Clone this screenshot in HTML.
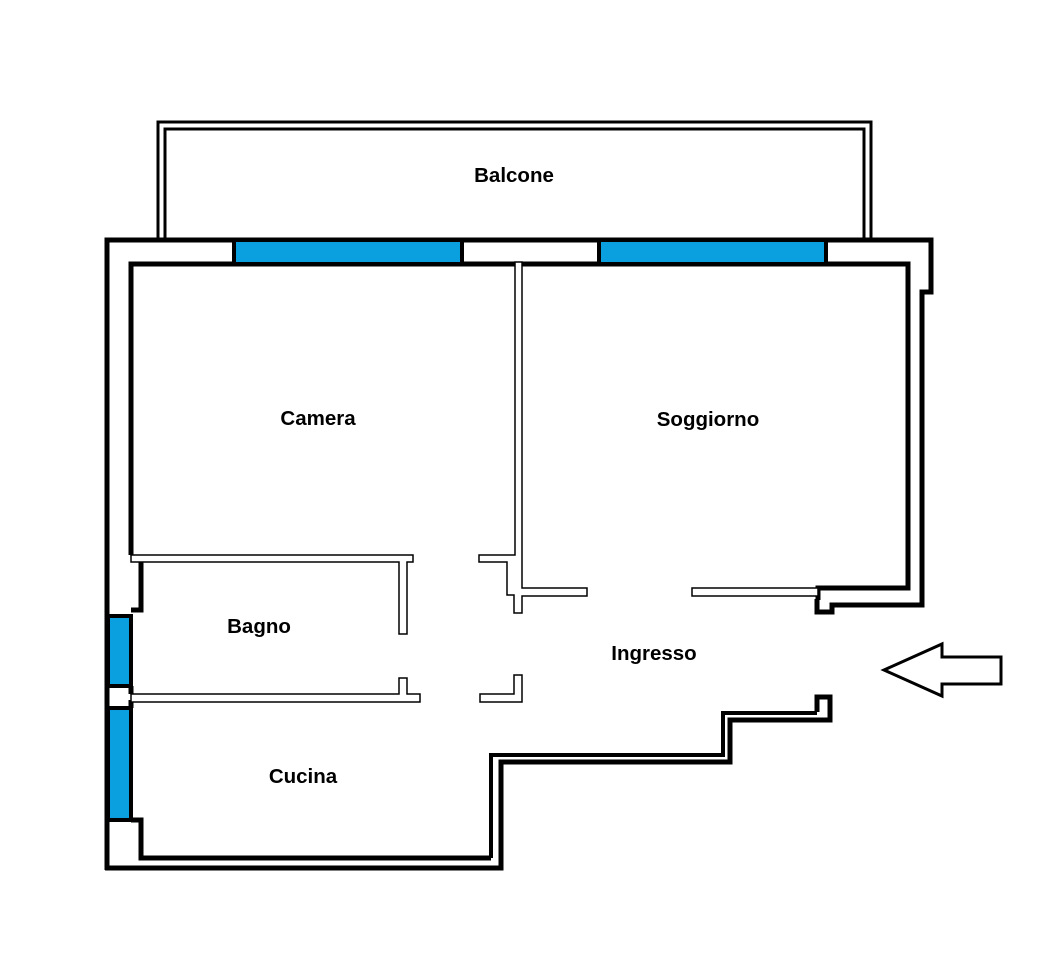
<!DOCTYPE html>
<html><head><meta charset="utf-8"><style>
html,body{margin:0;padding:0;background:#fff;width:1038px;height:971px;overflow:hidden}
text{font-family:"Liberation Sans",Arial,sans-serif;font-weight:bold;font-size:20.5px;fill:#000}
</style></head><body>
<svg width="1038" height="971" xmlns="http://www.w3.org/2000/svg">
<g fill="none" stroke="#000" stroke-linejoin="miter">
<polyline points="158,240 158,122 871,122 871,240" stroke-width="3"/>
<polyline points="165,240 165,129 864,129 864,240" stroke-width="3"/>
<polyline points="107,870 107,240 931,240 931,292 922,292 922,605 832,605 832,612 817,612 817,599" stroke-width="5"/>
<polyline points="105,868 501,868 501,762 730,762 730,720 830,720 830,697 817,697 817,712" stroke-width="5"/>
<polyline points="491,858 491,755 723,755 723,713 817,713" stroke-width="4"/>
<polyline points="131,555 131,264 515,264" stroke-width="5"/>
<polyline points="522,264 908,264 908,588 818,588 818,600" stroke-width="5"/>
<polyline points="131,610 141,610 141,562" stroke-width="5"/>
<polyline points="131,686 131,694" stroke-width="5"/>
<polyline points="131,700 131,708" stroke-width="5"/>
<polyline points="131,820 141,820 141,858 491,858" stroke-width="5"/>
</g>
<g fill="#0aa0e0" stroke="#000" stroke-width="4">
<rect x="234" y="240" width="228" height="24"/>
<rect x="599" y="240" width="227" height="24"/>
<rect x="108" y="616" width="23" height="70"/>
<rect x="108" y="708" width="23" height="112"/>
</g>
<g fill="#fff" stroke="#000" stroke-width="1.5">
<path d="M131,555 H413 V562 H407 V634 H399 V562 H131 Z"/>
<path d="M131,694 H399 V678 H407 V694 H420 V702 H131 Z"/>
<path d="M515,262 H522 V588 H587 V596 H522 V613 H514 V595 H507 V562 H479 V555 H515 Z"/>
<path d="M514,675 H522 V702 H480 V694 H514 Z"/>
<path d="M692,588 H818 V596 H692 Z"/>
</g>
<polygon points="884,670 942,644 942,657 1001,657 1001,684 942,684 942,696" fill="#fff" stroke="#000" stroke-width="3"/>
<text x="514" y="182" text-anchor="middle">Balcone</text>
<text x="318" y="425" text-anchor="middle">Camera</text>
<text x="708" y="426" text-anchor="middle">Soggiorno</text>
<text x="259" y="633" text-anchor="middle">Bagno</text>
<text x="654" y="660" text-anchor="middle">Ingresso</text>
<text x="303" y="783" text-anchor="middle">Cucina</text>
</svg>
</body></html>
